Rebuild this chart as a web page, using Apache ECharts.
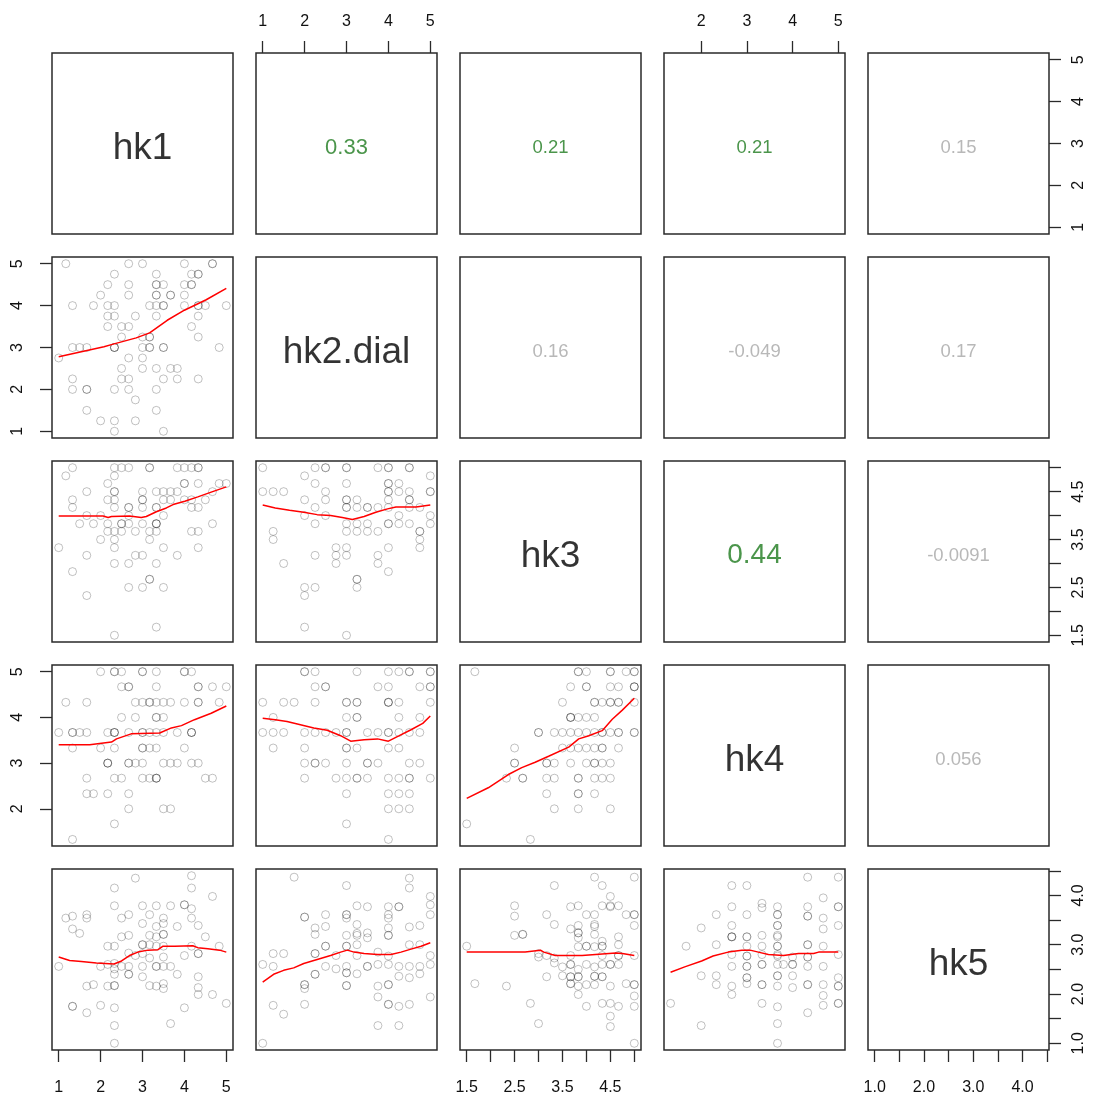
<!DOCTYPE html>
<html><head><meta charset="utf-8">
<script src="https://cdn.jsdelivr.net/npm/echarts@6/dist/echarts.min.js"></script>
<style>html,body{margin:0;padding:0;background:#fff}#c{width:1101px;height:1100px}</style>
</head><body><div id="c"></div>
<script>
// ---- variables ----
const varNames = ['hk1','hk2.dial','hk3','hk4','hk5'];
const varLo = [1, 1, 1.5, 1.333, 1];
const varHi = [5, 5, 5, 5, 4.4];
const tickVals = [[1,2,3,4,5],[1,2,3,4,5],[1.5,2,2.5,3,3.5,4,4.5,5],[2,3,4,5],[1,1.5,2,2.5,3,3.5,4,4.5]];
const labelVals = [[1,2,3,4,5],[1,2,3,4,5],[1.5,2.5,3.5,4.5],[2,3,4,5],[1,2,3,4]];
const labelDigits = [0,0,1,0,1];

// ---- correlations (upper panels: [row, col]) ----
const corCells = [[0,1],[0,2],[0,3],[0,4],[1,2],[1,3],[1,4],[2,3],[2,4],[3,4]];
const corText  = ['0.33','0.21','0.21','0.15','0.16','-0.049','0.17','0.44','-0.0091','0.056'];
const corSig   = [true,true,true,false,false,false,false,true,false,false];

// ---- scatter data (x var, y var) ----
const sc_hk1_hk2 = [[1.17,5],[2.67,5],[3,5],[4,5],[4.67,5],[4.67,5],
[2.33,4.75],[3.33,4.75],[4.17,4.75],[4.33,4.75],[4.33,4.75],
[2.17,4.5],[2.67,4.5],[3.33,4.5],[3.5,4.5],[4,4.5],[4.17,4.5],[4.17,4.5],[3.33,4.5],
[2.67,4.25],[3.33,4.25],[3.67,4.25],[3.67,4.25],[2,4.25],[4,4.25],[3.33,4.25],
[1.33,4],[1.83,4],[2.17,4],[2.33,4],[3.17,4],[3.33,4],[3.5,4],[3.5,4],[4,4],[4.33,4],[4.5,4],[5,4],[4.33,4],
[2.17,3.75],[2.83,3.75],[3.33,3.75],[2.33,3.75],[4.33,3.75],
[2.5,3.5],[2.67,3.5],[4.17,3.5],[2.17,3.5],
[2.5,3.25],[3,3.25],[3.17,3.25],[3.17,3.25],[4.33,3.25],
[1.33,3],[1.5,3],[1.67,3],[2.33,3],[2.33,3],[3,3],[3.17,3],[3.5,3],[3.5,3],[2.33,3],[3.17,3],[4.83,3],
[1,2.75],[2.67,2.75],[3,2.75],
[2.5,2.5],[3.33,2.5],[3.67,2.5],[3.83,2.5],[3,2.5],
[1.33,2.25],[2.5,2.25],[2.67,2.25],[3.5,2.25],[3.83,2.25],[4.33,2.25],
[1.67,2],[1.67,2],[1.33,2],[2.33,2],[2.67,2],[3.33,2],
[2.83,1.75],[1.67,1.5],[3.33,1.5],[2,1.25],[2.33,1.25],[2.83,1.25],[3.5,1],[2.33,1]];

const sc_hk1_hk3 = [[2.33,5],[2.5,5],[2.67,5],[3.17,5],[3.17,5],[3.83,5],[4,5],[4.17,5],[4.33,5],[4.33,5],
[1.33,5],[1.17,4.83],[2.33,4.83],
[2.17,4.67],[4,4.67],[4,4.67],[4.33,4.67],[4.83,4.67],[5,4.67],
[1.67,4.5],[2.33,4.5],[2.33,4.5],[3,4.5],[3.33,4.5],[3.5,4.5],[3.67,4.5],[3.83,4.5],[4.67,4.5],
[1.33,4.33],[2.17,4.33],[2.33,4.33],[3,4.33],[3,4.33],[3.5,4.33],[3.67,4.33],[4,4.33],[4.17,4.33],[4.5,4.33],
[1.33,4.17],[2.33,4.17],[2.67,4.17],[2.67,4.17],[3,4.17],[3.33,4.17],[3.33,4.17],[4.17,4.17],[4.33,4.17],
[1.67,4],[2,4],[2.67,4],[3.5,4],
[1.5,3.83],[1.83,3.83],[2.17,3.83],[2.5,3.83],[2.5,3.83],[2.67,3.83],[3,3.83],[3.33,3.83],[3.33,3.83],[3.33,3.83],[4.67,3.83],
[2.17,3.67],[2.33,3.67],[2.5,3.67],[2.83,3.67],[3.17,3.67],[3.33,3.67],[4.17,3.67],[4.33,3.67],
[2,3.5],[2.33,3.5],[3.17,3.5],
[1,3.33],[2.33,3.33],[3.5,3.33],[4.33,3.33],
[1.67,3.17],[2.83,3.17],[3,3.17],[3.83,3.17],
[2.33,3],[2.67,3],[3.33,3],
[1.33,2.83],[3.17,2.67],[3.17,2.67],
[2.67,2.5],[3,2.5],[3.5,2.5],
[1.67,2.33],[3.33,1.67],[2.33,1.5]];

const sc_hk1_hk4 = [[2,5],[2.33,5],[2.33,5],[2.5,5],[3,5],[3,5],[3.33,5],[4,5],[4,5],[4.17,5],
[2.5,4.67],[2.67,4.67],[2.67,4.67],[3.33,4.67],[4.33,4.67],[4.33,4.67],[4.67,4.67],[5,4.67],
[1.17,4.33],[1.67,4.33],[2.83,4.33],[3,4.33],[3.17,4.33],[3.17,4.33],[3.33,4.33],[3.5,4.33],[3.67,4.33],[4,4.33],[4.33,4.33],[4.33,4.33],[4.83,4.33],
[2.5,4],[2.83,4],[3.33,4],[3.33,4],[3.5,4],
[1,3.67],[1.33,3.67],[1.33,3.67],[1.5,3.67],[1.67,3.67],[2.17,3.67],[2.33,3.67],[2.33,3.67],[2.33,3.67],[2.67,3.67],[3,3.67],[3,3.67],[3.17,3.67],[3.33,3.67],[3.5,3.67],[3.83,3.67],[4.17,3.67],[4.17,3.67],[4.17,3.67],
[1.33,3.33],[2,3.33],[2.33,3.33],[3,3.33],[3,3.33],[3.17,3.33],[3.33,3.33],[4,3.33],
[2.17,3],[2.17,3],[2.17,3],[2.67,3],[2.67,3],[2.83,3],[3,3],[3.5,3],[3.67,3],[3.83,3],[4.17,3],[4.33,3],
[1.67,2.67],[2.33,2.67],[2.5,2.67],[3,2.67],[3.17,2.67],[3.33,2.67],[3.33,2.67],[3.33,2.67],[4.5,2.67],[4.67,2.67],
[1.67,2.33],[1.83,2.33],[2.17,2.33],[2.67,2.33],
[2.67,2],[3.5,2],[3.67,2],[2.33,1.67],[1.33,1.33]];

const sc_hk1_hk5 = [[4.17,4.4],[2.83,4.35],[2.33,4.15],[4.17,4.15],[4.67,3.98],
[2.33,3.79],[3,3.79],[3.33,3.79],[3.67,3.79],[4,3.81],[4,3.81],[4.17,3.73],
[1.17,3.54],[1.33,3.58],[1.67,3.61],[1.67,3.54],[2.5,3.54],[2.67,3.61],[3.17,3.61],[3.5,3.54],[4.17,3.54],
[3,3.43],[3.33,3.37],[3.5,3.43],[3.83,3.37],[4.33,3.39],[1.33,3.32],[1.5,3.23],
[2.5,3.16],[2.67,3.19],[3.17,3.19],[3.33,3.16],[3.5,3.21],[3.5,3.21],[4.5,3.16],
[2.17,2.97],[2.33,2.97],[3,3],[3,3],[3.17,3],[3.33,2.97],[3.5,2.97],[4.17,2.97],[4.83,2.97],
[2.67,2.83],[2.83,2.78],[3,2.82],[3.17,2.73],[3.5,2.75],[4,2.78],[4.33,2.82],[4.33,2.82],
[1,2.56],[2,2.56],[2.17,2.6],[2.33,2.62],[2.33,2.51],[2.5,2.56],[2.67,2.56],[3,2.56],[3.33,2.56],[3.33,2.56],[3.5,2.56],[3.67,2.56],
[2.33,2.4],[2.67,2.4],[2.67,2.4],[3,2.35],[3.83,2.4],[4.33,2.35],
[1.67,2.16],[1.83,2.19],[2.17,2.16],[2.33,2.17],[2.33,2.17],[3.17,2.17],[3.33,2.16],[3.5,2.11],[3.5,2.21],[4.33,2.13],
[4.33,1.99],[4.67,1.99],[1.33,1.75],[1.33,1.75],[1.67,1.62],[2,1.77],[2.33,1.72],[4,1.72],[5,1.81],
[3.67,1.4],[2.33,1.36],[2.33,1]];

const sc_hk2_hk3 = [[1,5],[2.25,5],[2.5,5],[2.5,5],[3,5],[3,5],[3.75,5],[4,5],[4,5],[4.5,5],[4.5,5],
[2,4.83],[5,4.83],
[2.25,4.67],[3,4.67],[4,4.67],[4,4.67],[4.25,4.67],
[1,4.5],[1.25,4.5],[1.5,4.5],[2.5,4.5],[4,4.5],[4,4.5],[4.25,4.5],[4.5,4.5],[5,4.5],[5,4.5],
[2.5,4.33],[3,4.33],[3,4.33],[4,4.33],[4.5,4.33],[4.5,4.33],[2,4.33],[3.25,4.33],
[3,4.17],[3,4.17],[2.25,4.17],[3.5,4.17],[3.5,4.17],[3.75,4.17],[4,4.17],[4.75,4.17],[4.5,4.17],[3.25,4.17],
[2,4],[2.5,4],[4.25,4],[5,4],
[2.25,3.83],[3,3.83],[3.25,3.83],[3.5,3.83],[4,3.83],[4,3.83],[4.25,3.83],[4.5,3.83],[5,3.83],
[1.25,3.67],[3,3.67],[3.25,3.67],[3.5,3.67],[3.75,3.67],[4.75,3.67],[4.75,3.67],
[1.25,3.5],[4.75,3.5],
[2.75,3.33],[3,3.33],[4,3.33],[4.75,3.33],
[2.75,3.17],[2.25,3.17],[3,3.17],[3.75,3.17],
[1.5,3],[2.75,3],[3.75,3],
[4,2.83],[3.25,2.67],[3.25,2.67],
[3.25,2.5],[2,2.5],[2.25,2.5],
[2,2.33],[2,1.67],[3,1.5]];

const sc_hk2_hk4 = [[2,5],[2,5],[2.25,5],[3.25,5],[4,5],[4.25,5],[4.5,5],[4.5,5],[5,5],[5,5],
[2.25,4.67],[2.5,4.67],[2.5,4.67],[3.75,4.67],[4,4.67],[4.75,4.67],[5,4.67],[5,4.67],
[1,4.33],[1.5,4.33],[1.75,4.33],[2.25,4.33],[3,4.33],[3,4.33],[3.25,4.33],[3.25,4.33],[4,4.33],[4,4.33],[4,4.33],[4.25,4.33],[5,4.33],
[1.25,4],[3.25,4],[3.25,4],[3,4],[4.25,4],[4.75,4],
[1,3.67],[1.25,3.67],[1.5,3.67],[2,3.67],[2.25,3.67],[2.5,3.67],[2.75,3.67],[3,3.67],[3,3.67],[3.5,3.67],[3.75,3.67],[4,3.67],[4,3.67],[4.25,3.67],[4.5,3.67],[4.75,3.67],
[3,3.33],[3,3.33],[3.25,3.33],[1.25,3.33],[2,3.33],[4,3.33],[4.25,3.33],
[2,3],[2.25,3],[2.25,3],[2.5,3],[3,3],[3.5,3],[3.5,3],[3.75,3],[4.5,3],[4.75,3],
[2,2.67],[2.75,2.67],[3,2.67],[3.25,2.67],[3.25,2.67],[3.5,2.67],[4,2.67],[4.25,2.67],[4.5,2.67],[4.5,2.67],[5,2.67],
[3,2.33],[4,2.33],[4.25,2.33],[4.5,2.33],
[4,2],[4.25,2],[4.5,2],[3,1.67],[4,1.33]];

const sc_hk2_hk5 = [[1.75,4.37],[3,4.2],[4.5,4.35],[4.5,4.15],[5,3.98],[5,3.81],[5,3.61],
[3.25,3.79],[3.5,3.77],[4,3.77],[4.25,3.77],[4.25,3.77],
[2,3.56],[2,3.56],[2.5,3.61],[3,3.61],[3,3.61],[3,3.54],[4,3.61],[4,3.54],
[2.25,3.34],[2.25,3.21],[2.5,3.37],[3.25,3.41],[4,3.34],[4.5,3.36],[4.75,3.39],
[3,3.19],[3.25,3.19],[3.25,3.23],[3.5,3.24],[3.5,3.14],[4,3.19],[4,3.19],
[3.25,3],[2.5,2.97],[2.5,2.97],[3,2.97],[3,2.97],[4.5,3],[4.75,3],
[1.25,2.82],[1.5,2.82],[2.25,2.82],[2.25,2.82],[2.75,2.78],[3.25,2.78],[3.75,2.85],[4,2.77],[5,2.78],
[1,2.6],[1.25,2.56],[2.5,2.56],[2.75,2.51],[3,2.56],[3.5,2.56],[3.5,2.56],[3.75,2.6],[4,2.6],[4.25,2.56],[4.5,2.56],[4.75,2.56],[5,2.6],
[2.25,2.4],[2.25,2.4],[3,2.43],[3,2.43],[3.25,2.41],[4.25,2.36],[4.5,2.33],[4.75,2.41],
[2,2.19],[2,2.19],[2,2.11],[3,2.17],[3,2.17],[3.75,2.16],[4,2.19],[4,2.19],
[3.75,1.94],[5,1.94],[1.25,1.77],[2,1.79],[4,1.79],[4,1.79],[4.25,1.75],[4.5,1.79],
[1.5,1.59],[3.75,1.36],[4.25,1.36],[1,1]];

const sc_hk3_hk4 = [[1.67,5],[3.83,5],[3.83,5],[4,5],[4.5,5],[4.5,5],[4.83,5],[5,5],[5,5],
[3.67,4.67],[4,4.67],[4,4.67],[4.5,4.67],[4.67,4.67],[5,4.67],[5,4.67],[5,4.67],
[3.5,4.33],[4.17,4.33],[4.17,4.33],[4.33,4.33],[4.5,4.33],[4.5,4.33],[4.67,4.33],[4.67,4.33],[5,4.33],
[3.67,4],[3.67,4],[3.67,4],[3.83,4],[4,4],[4.17,4],
[3.33,3.67],[3.5,3.67],[3.67,3.67],[3.83,3.67],[4,3.67],[3,3.67],[3,3.67],[4.17,3.67],[4.33,3.67],[4.33,3.67],[4.5,3.67],[4.67,3.67],[4.67,3.67],[5,3.67],[5,3.67],
[3.5,3.33],[3.67,3.33],[3.83,3.33],[4,3.33],[4.17,3.33],[4.33,3.33],[4.33,3.33],[4.67,3.33],[2.5,3.33],
[2.5,3],[2.5,3],[3.17,3],[3.17,3],[3.33,3],[3.67,3],[4,3],[4.17,3],[4.17,3],[4.33,3],[4.5,3],
[2.33,2.67],[2.67,2.67],[2.67,2.67],[3.17,2.67],[3.33,2.67],[3.83,2.67],[3.83,2.67],[4.17,2.67],[4.33,2.67],[4.5,2.67],
[3.17,2.33],[3.83,2.33],[3.83,2.33],[4.17,2.33],
[3.33,2],[3.83,2],[4.5,2],[1.5,1.67],[2.83,1.33]];

const sc_hk3_hk5 = [[1.5,2.97],[1.67,2.21],[2.33,2.16],[2.5,3.79],[2.5,3.58],[2.5,3.19],[2.67,3.21],[2.67,3.21],[2.83,1.81],[3,1.4],[3,2.82],[3,2.75],
[3.17,3.61],[3.17,2.35],[3.33,4.2],[3.33,3.41],[3.17,2.78],[3.33,2.73],[3.33,2.63],[3.5,2.55],[3.5,2.37],
[3.67,3.77],[3.67,3.32],[3.67,2.78],[3.67,2.6],[3.67,2.6],[3.67,2.35],[3.67,2.35],[3.67,2.21],[3.67,2.21],
[3.83,3.79],[3.83,3.39],[3.83,3.24],[3.83,3.24],[3.83,3.14],[3.83,2.96],[3.83,2.5],[3.83,2.35],[3.83,2.35],[3.83,2.16],[3.83,1.99],
[4,3.61],[4,2.97],[4,2.97],[4,2.6],[4,2.19],[4,1.75],
[4.17,4.37],[4.17,3.61],[4.17,3.41],[4.17,3.37],[4.17,3.21],[4.17,2.96],[4.17,2.55],[4.17,2.36],[4.17,2.36],[4.17,2.19],
[4.33,3.79],[4.33,4.2],[4.33,3.07],[4.33,2.97],[4.33,2.97],[4.33,2.78],[4.33,2.6],[4.33,2.35],[4.33,2.35],[4.33,1.81],
[4.5,3.98],[4.5,3.77],[4.5,3.79],[4.67,3.79],[4.5,2.6],[4.5,2.6],[4.5,2.16],[4.5,1.81],[4.5,1.55],[4.5,1.34],
[4.67,3.16],[4.67,3],[4.67,2.78],[4.67,2.78],[4.67,2.6],[4.67,1.75],[4.83,3.61],[4.83,2.21],
[5,4.37],[5,3.61],[5,3.61],[5,3.39],[5,2.78],[5,2.19],[5,2.19],[5,1.96],[5,1.75],[5,1]];

const sc_hk4_hk5 = [[4.33,4.37],[5,4.37],[2.67,4.2],[3,4.2],[4.67,3.95],[3.33,3.84],[2.67,3.77],[3.33,3.75],[3.67,3.77],[4.33,3.77],[5,3.77],[5,3.77],
[2.33,3.61],[3,3.61],[3.67,3.61],[3.67,3.61],[4.33,3.58],[4.33,3.58],[4.67,3.54],
[2,3.34],[2.67,3.39],[3.67,3.39],[3.67,3.39],[4.67,3.32],[5,3.39],
[2.67,3.16],[2.67,3.16],[2.67,3.16],[3,3.16],[3,3.16],[3.33,3.19],[3.67,3.19],[3.67,3.16],
[1.67,2.97],[2.33,3],[3,2.97],[3.33,2.97],[3.67,2.97],[3.67,2.97],[4.33,3],[4.33,3],[4.67,2.97],
[2.67,2.8],[3,2.77],[3,2.77],[3.33,2.8],[3.67,2.8],[3.67,2.77],[4,2.75],[4.33,2.75],[4.33,2.75],[5,2.8],
[2.67,2.56],[3,2.56],[3,2.56],[3.33,2.6],[3.33,2.6],[3.67,2.6],[3.8,2.6],[4,2.6],[4,2.6],[4.33,2.56],[4.67,2.56],
[2,2.37],[2.33,2.37],[3,2.33],[3,2.33],[3.67,2.37],[3.67,2.37],[4,2.37],[5,2.33],
[2.33,2.19],[2.67,2.16],[3,2.21],[3.33,2.19],[3.33,2.19],[3.67,2.16],[4,2.13],[4.33,2.19],[4.33,2.19],[4.67,2.19],[5,2.16],[5,2.16],
[2.67,1.99],[4.67,1.97],[1.33,1.81],[3.33,1.81],[3.67,1.74],[4.33,1.62],[4.67,1.77],[5,1.81],[5,1.81],
[2,1.36],[3.67,1.4],[3.67,1]];

// ---- smoothers (lowess curves) ----
const lo_hk1_hk2 = [[1,2.78],[2.08,3.02],[2.3,3.08],[2.85,3.23],[3.17,3.35],[3.59,3.65],[4,3.89],[4.52,4.14],[5,4.41]];
const lo_hk1_hk3 = [[1,3.99],[2.06,3.99],[2.18,3.96],[2.26,3.98],[2.69,3.99],[2.97,3.96],[3.09,3.98],[3.33,4.08],[3.57,4.16],[3.73,4.23],[4.01,4.3],[4.32,4.39],[4.64,4.49],[5,4.6]];
const lo_hk1_hk4 = [[1,3.4],[1.74,3.4],[2.26,3.46],[2.38,3.53],[2.73,3.64],[3.41,3.66],[3.69,3.77],[3.93,3.82],[4.24,3.95],[4.64,4.09],[5,4.25]];
const lo_hk1_hk5 = [[1,2.75],[1.26,2.68],[1.54,2.66],[1.9,2.63],[2.32,2.61],[2.5,2.67],[2.69,2.78],[2.89,2.85],[3.13,2.89],[3.37,2.9],[3.49,2.97],[3.77,2.97],[4.2,2.98],[4.32,2.94],[4.56,2.92],[4.84,2.89],[5,2.85]];
const lo_hk2_hk3 = [[1,4.22],[1.3,4.16],[1.64,4.11],[1.98,4.07],[2.3,4.02],[2.62,4],[2.9,3.96],[3.14,3.92],[3.42,3.98],[3.7,4.07],[3.98,4.14],[4.18,4.18],[4.5,4.18],[4.66,4.18],[5,4.22]];
const lo_hk2_hk4 = [[1,3.98],[1.3,3.95],[1.58,3.91],[1.9,3.84],[2.22,3.77],[2.54,3.72],[2.86,3.6],[3.1,3.48],[3.42,3.51],[3.74,3.53],[4,3.48],[4.26,3.6],[4.54,3.73],[4.82,3.87],[5,4.03]];
const lo_hk2_hk5 = [[1,2.24],[1.26,2.4],[1.5,2.48],[1.74,2.53],[1.98,2.62],[2.3,2.7],[2.62,2.78],[2.86,2.85],[3.02,2.89],[3.18,2.85],[3.42,2.82],[3.74,2.8],[4.06,2.8],[4.3,2.85],[4.54,2.91],[4.78,2.97],[5,3.04]];
const lo_hk3_hk4 = [[1.5,2.23],[1.95,2.46],[2.37,2.75],[2.65,2.9],[2.93,3.02],[3.21,3.15],[3.63,3.35],[3.84,3.53],[4.05,3.6],[4.33,3.71],[4.54,3.96],[4.75,4.16],[5,4.42]];
const lo_hk3_hk5 = [[1.5,2.85],[2.72,2.85],[2.76,2.89],[3.04,2.89],[3.11,2.85],[3.28,2.8],[3.35,2.78],[3.91,2.78],[3.95,2.82],[4.61,2.83],[4.75,2.82],[5,2.78]];
const lo_hk4_hk5 = [[1.33,2.44],[1.64,2.55],[2.01,2.67],[2.26,2.77],[2.59,2.85],[2.89,2.89],[3.07,2.89],[3.25,2.85],[3.47,2.8],[3.8,2.78],[4.13,2.82],[4.46,2.82],[4.57,2.85],[5,2.85]];

const scatterSets = {
  '0_1': sc_hk1_hk2, '0_2': sc_hk1_hk3, '0_3': sc_hk1_hk4, '0_4': sc_hk1_hk5,
  '1_2': sc_hk2_hk3, '1_3': sc_hk2_hk4, '1_4': sc_hk2_hk5,
  '2_3': sc_hk3_hk4, '2_4': sc_hk3_hk5, '3_4': sc_hk4_hk5
};
const smoothSets = {
  '0_1': lo_hk1_hk2, '0_2': lo_hk1_hk3, '0_3': lo_hk1_hk4, '0_4': lo_hk1_hk5,
  '1_2': lo_hk2_hk3, '1_3': lo_hk2_hk4, '1_4': lo_hk2_hk5,
  '2_3': lo_hk3_hk4, '2_4': lo_hk3_hk5, '3_4': lo_hk4_hk5
};

// ---- layout / style ----
const FONT = 'Liberation Sans, Arial, sans-serif';
const X0 = 52, Y0 = 53, STEP = 204, SIZE = 181;
const pad = k => 0.04 * (varHi[k] - varLo[k]);
const pMin = k => varLo[k] - pad(k);
const pMax = k => varHi[k] + pad(k);

const grids = [], xAxes = [], yAxes = [], series = [];
const corSize = t => t === '0.44' ? 28 : (t === '0.33' ? 22 : 18.5);

for (let r = 0; r < 5; r++) {
  for (let c = 0; c < 5; c++) {
    const i = r * 5 + c;
    grids.push({left: X0 + c * STEP, top: Y0 + r * STEP, width: SIZE, height: SIZE,
      show: true, borderColor: '#2a2a2a', borderWidth: 1.5, backgroundColor: 'transparent'});
    const xTop = (r === 0 && c % 2 === 1), xBot = (r === 4 && c % 2 === 0);
    const yLeft = (c === 0 && r % 2 === 1), yRight = (c === 4 && r % 2 === 0);
    xAxes.push({
      gridIndex: i, type: 'value', min: pMin(c), max: pMax(c),
      show: xTop || xBot, position: xTop ? 'top' : 'bottom',
      axisLine: {show: false}, splitLine: {show: false},
      axisTick: {show: true, length: 12, customValues: tickVals[c], lineStyle: {color: '#2a2a2a', width: 1.3}},
      axisLabel: {show: true, customValues: labelVals[c], formatter: v => Number(v).toFixed(labelDigits[c]),
        margin: xTop ? 23 : 30, fontSize: 16, color: '#111', fontFamily: FONT}
    });
    yAxes.push({
      gridIndex: i, type: 'value', min: pMin(r), max: pMax(r),
      show: yLeft || yRight, position: yLeft ? 'left' : 'right',
      axisLine: {show: false}, splitLine: {show: false},
      axisTick: {show: true, length: 12, customValues: tickVals[r], lineStyle: {color: '#2a2a2a', width: 1.3}},
      axisLabel: {show: true, rotate: 90, customValues: labelVals[r], formatter: v => Number(v).toFixed(labelDigits[r]),
        margin: yLeft ? 26 : 22, fontSize: 16, color: '#111', fontFamily: FONT}
    });
    const cx = (pMin(c) + pMax(c)) / 2, cy = (pMin(r) + pMax(r)) / 2;
    if (r === c) {
      series.push({type: 'scatter', xAxisIndex: i, yAxisIndex: i, data: [[cx, cy]], symbolSize: 1,
        itemStyle: {color: 'rgba(0,0,0,0)'}, silent: true,
        label: {show: true, position: 'inside', offset: [0, 5], formatter: varNames[r], fontSize: 37, color: '#000', fontFamily: FONT}});
    } else if (r > c) {
      const key = c + '_' + r;
      series.push({type: 'scatter', xAxisIndex: i, yAxisIndex: i, data: scatterSets[key],
        symbol: 'circle', symbolSize: 8, silent: true,
        itemStyle: {color: 'rgba(0,0,0,0)', borderColor: 'rgba(0,0,0,0.3)', borderWidth: 1}});
      series.push({type: 'line', xAxisIndex: i, yAxisIndex: i, data: smoothSets[key],
        showSymbol: false, symbol: 'none', silent: true, z: 5,
        lineStyle: {color: '#ff0000', width: 1.5}});
    } else {
      const k = corCells.findIndex(p => p[0] === r && p[1] === c);
      series.push({type: 'scatter', xAxisIndex: i, yAxisIndex: i, data: [[cx, cy]], symbolSize: 1,
        itemStyle: {color: 'rgba(0,0,0,0)'}, silent: true,
        label: {show: true, position: 'inside', offset: [0, 4], formatter: corText[k], fontSize: corSize(corText[k]),
          color: corSig[k] ? '#1e7b1e' : '#a6a6a6', fontFamily: FONT}});
    }
  }
}

const chart = echarts.init(document.getElementById('c'), null, {renderer: 'canvas'});
chart.setOption({animation: false, backgroundColor: '#fff', grid: grids, xAxis: xAxes, yAxis: yAxes, series: series});
</script></body></html>
